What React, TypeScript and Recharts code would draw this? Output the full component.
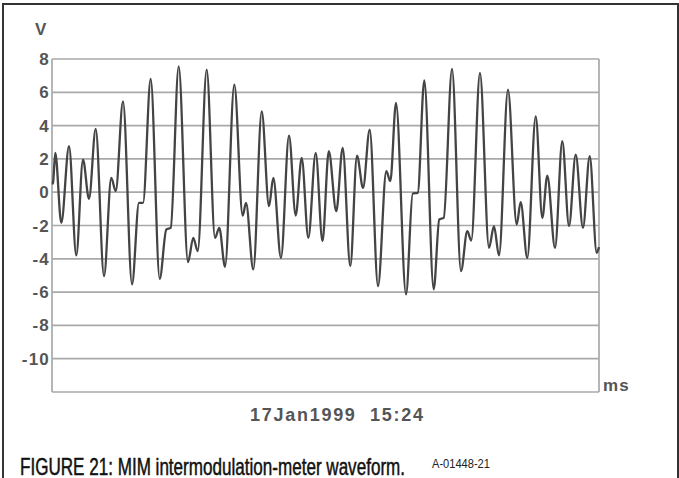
import React from 'react';
import { LineChart, Line, XAxis, YAxis, CartesianGrid } from 'recharts';

// Time in ms (10 grid divisions across the screen) and measured voltage
const timeMs = [
  0.0, 0.018, 0.06, 0.17, 0.311, 0.444, 0.567, 0.676, 0.799, 0.951,
  1.084, 1.165, 1.298, 1.463, 1.59, 1.664, 1.804, 1.969, 2.09, 2.17,
  2.316, 2.486, 2.583, 2.664, 2.828, 2.98, 3.058, 3.163, 3.333, 3.486,
  3.547, 3.68, 3.834, 3.967, 4.046, 4.186, 4.333, 4.455, 4.565, 4.686,
  4.821, 4.945, 5.06, 5.197, 5.314, 5.453, 5.576, 5.686, 5.808, 5.96,
  6.112, 6.185, 6.289, 6.472, 6.594, 6.686, 6.806, 6.978, 7.08, 7.161,
  7.313, 7.477, 7.592, 7.665, 7.824, 7.989, 8.08, 8.172, 8.336, 8.495,
  8.568, 8.689, 8.843, 8.964, 9.055, 9.196, 9.329, 9.452, 9.574, 9.707,
  9.83, 9.958, 10.0,
];
const volts = [
  0.5, 0.56, 2.36, -1.84, 2.76, -3.8, 1.96, -0.4, 3.8, -5.04,
  0.86, 0.06, 5.46, -5.54, -0.64, -0.64, 6.8, -5.2, -2.24, -2.14,
  7.56, -4.2, -2.74, -3.54, 7.36, -2.74, -2.14, -4.48, 6.46, -1.4,
  -0.64, -4.64, 4.86, -0.84, 0.86, -3.94, 3.4, -1.4, 2.06, -2.74,
  2.36, -2.94, 2.46, -1.14, 2.66, -4.44, 2.2, 0.26, 3.76, -5.64,
  1.26, 0.66, 5.36, -6.14, -0.08, -0.04, 6.72, -5.84, -1.64, -1.54,
  7.4, -4.74, -2.34, -2.9, 7.16, -3.34, -2.04, -3.8, 6.16, -1.94,
  -0.6, -3.94, 4.56, -1.54, 1.0, -3.34, 3.06, -2.04, 2.26, -2.14,
  2.16, -3.64, -3.3,
];

const yTicks = [8, 6, 4, 2, 0, -2, -4, -6, -8, -10, -12];
const xTicks = [0, 1, 2, 3, 4, 5, 6, 7, 8, 9, 10];
const yUnit = 'V';
const xUnit = 'ms';
const timestamp = '17Jan1999  15:24';
const caption = 'FIGURE 21: MIM intermodulation-meter waveform.';
const figureId = 'A-01448-21';

const data = timeMs.map((t, i) => ({ t, v: volts[i] }));

const FONT = '"Liberation Sans", Arial, Helvetica, sans-serif';
const LABEL_FILL = '#555';

export default function App() {
  return (
    <div
      style={{
        position: 'fixed',
        left: 0,
        top: 0,
        width: 679,
        height: 478,
        background: '#fff',
        overflow: 'hidden',
      }}
    >
      <div
        style={{
          position: 'absolute',
          left: 2,
          top: 3,
          width: 677,
          height: 490,
          boxSizing: 'border-box',
          border: '2px solid #333',
          borderBottom: 'none',
        }}
      />
      <div style={{ position: 'absolute', left: 0, top: 0 }}>
        <LineChart
          width={679}
          height={478}
          data={data}
          margin={{ top: 59, right: 80, bottom: 86, left: 12 }}
        >
          <CartesianGrid stroke="#a9a9a9" strokeWidth={1.7} />
          <XAxis
            dataKey="t"
            type="number"
            domain={[0, 10]}
            ticks={xTicks}
            interval={0}
            tick={false}
            tickLine={false}
            axisLine={false}
            height={0}
          />
          <YAxis
            type="number"
            domain={[-12, 8]}
            ticks={yTicks}
            interval={0}
            width={40}
            tickSize={0}
            tickMargin={2}
            tickLine={false}
            axisLine={false}
            allowDataOverflow
            tickFormatter={(v: number) => (v === -12 ? '' : String(v))}
            tick={{
              fontSize: 17,
              fill: LABEL_FILL,
              fontFamily: FONT,
              fontWeight: 700,
              letterSpacing: 1.2,
            }}
          />
          <Line
            type="monotone"
            dataKey="v"
            stroke="#444"
            strokeWidth={2.3}
            dot={false}
            activeDot={false}
            isAnimationActive={false}
          />
        </LineChart>
      </div>
      <svg
        width={679}
        height={478}
        style={{ position: 'absolute', left: 0, top: 0, pointerEvents: 'none' }}
      >
        <text x={35} y={35} fontSize={17} fontWeight={700} fill={LABEL_FILL} fontFamily={FONT}>
          {yUnit}
        </text>
        <text
          x={603}
          y={391}
          fontSize={17}
          fontWeight={700}
          fill={LABEL_FILL}
          fontFamily={FONT}
          letterSpacing={1.2}
        >
          {xUnit}
        </text>
        <text
          x={250}
          y={421}
          fontSize={18}
          fontWeight={700}
          fill={LABEL_FILL}
          fontFamily={FONT}
          textLength={173}
          lengthAdjust="spacing"
          style={{ whiteSpace: 'pre' }}
        >
          {timestamp}
        </text>
        <g transform="translate(20,474.5) scale(0.742,1)">
          <text
            x={0}
            y={0}
            fontSize={23}
            fill="#111"
            stroke="#111"
            strokeWidth={0.5}
            fontFamily={FONT}
          >
            {caption}
          </text>
        </g>
        <g transform="translate(432,468) scale(0.925,1)">
          <text x={0} y={0} fontSize={12} fill="#222" fontFamily={FONT}>
            {figureId}
          </text>
        </g>
      </svg>
    </div>
  );
}
